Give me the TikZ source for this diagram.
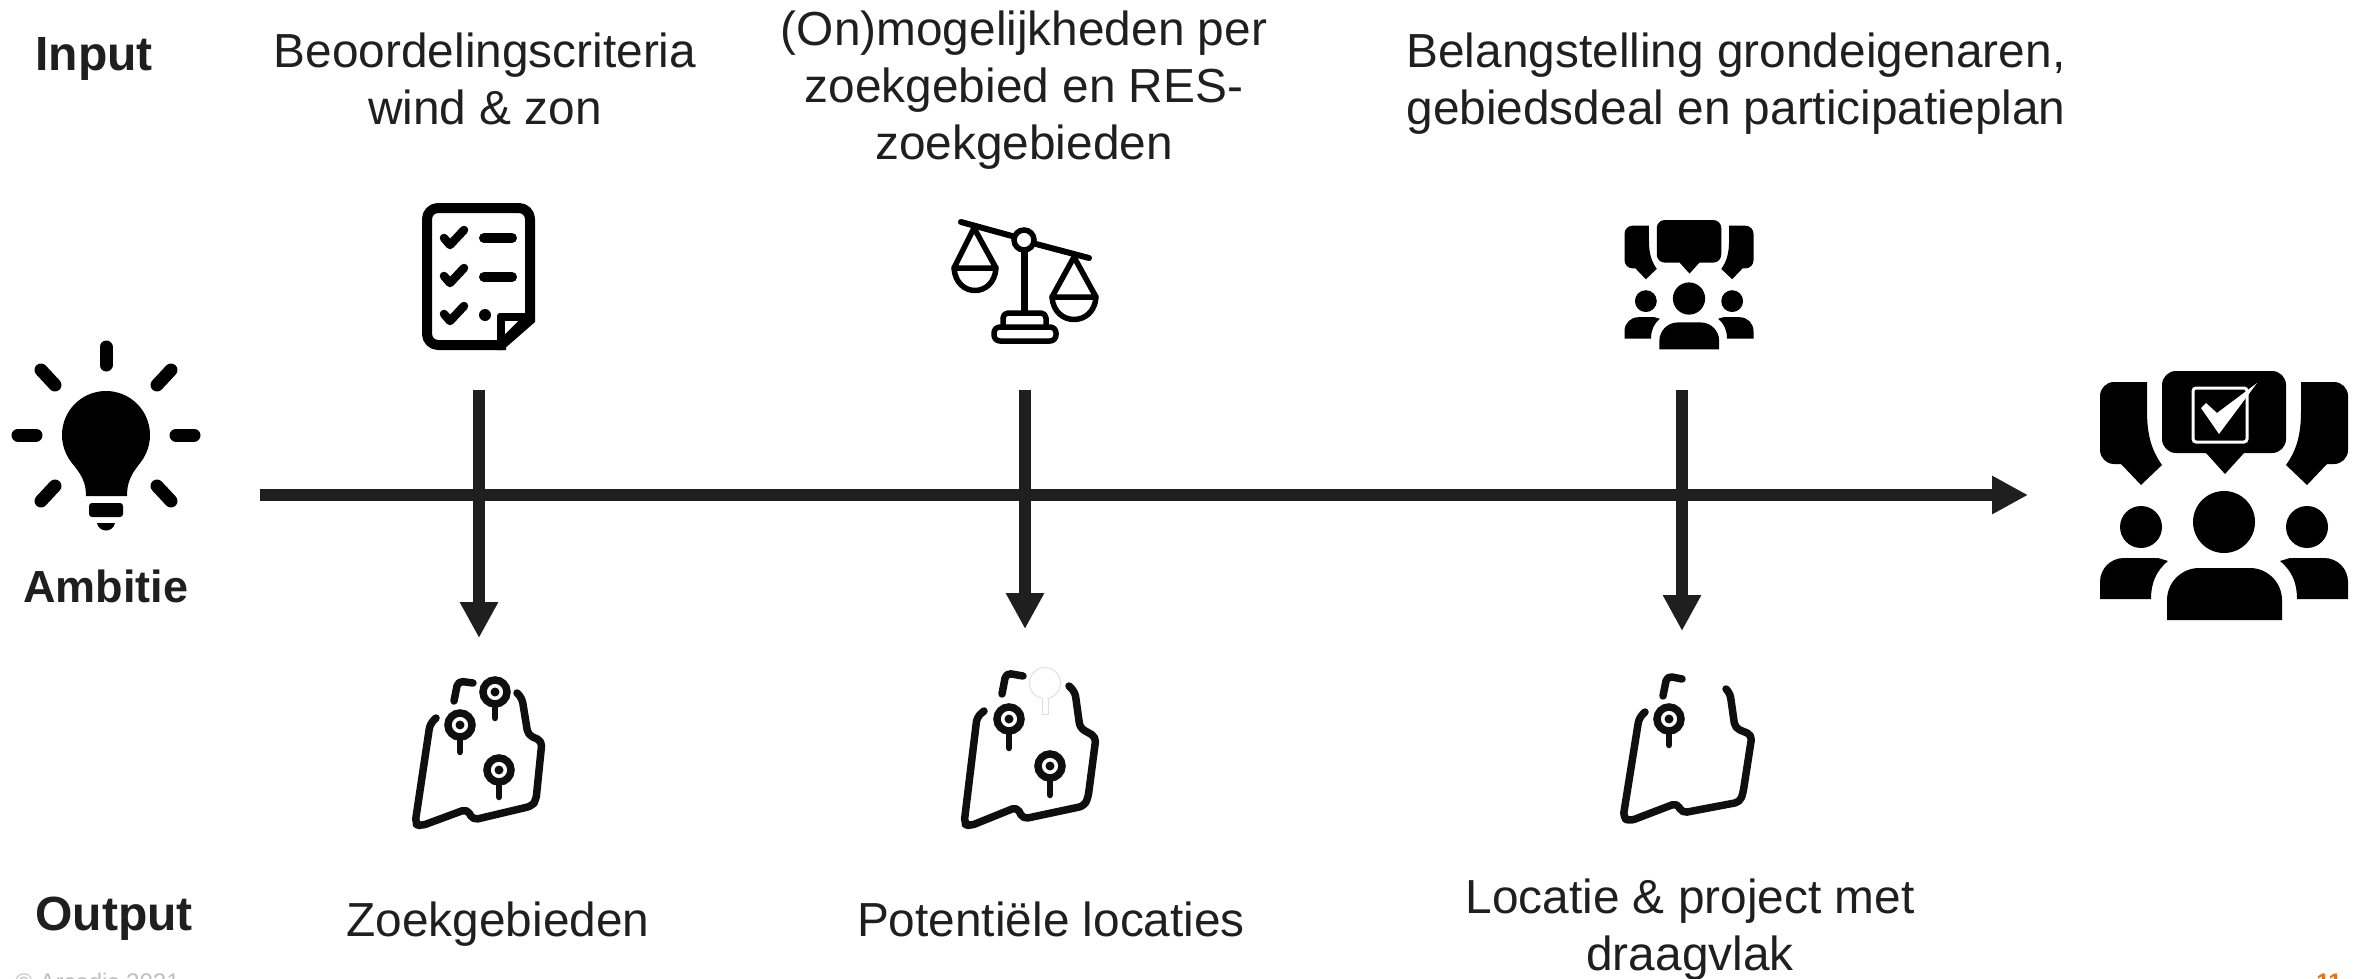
\documentclass[tikz,border=0pt]{standalone}
\usepackage{fontspec}
\setmainfont{Liberation Sans}
\usetikzlibrary{arrows.meta}
\definecolor{ink}{HTML}{1F1F1F}
\definecolor{mapink}{HTML}{0F0F0F}
\definecolor{foot}{HTML}{BFBFBF}
\definecolor{pagenr}{HTML}{E8701A}
\tikzset{
  label/.style={text=ink,font=\fontsize{47.8}{57}\selectfont,align=center,inner sep=0pt},
  blabel/.style={label,font=\fontsize{48}{57}\selectfont\bfseries},
  flow/.style={draw=ink,line width=12pt,-{Triangle[length=36pt,width=36pt]}},
  mapline/.style={draw=mapink,line width=7.5pt,line cap=round,line join=round,rounded corners=5pt},
  ray/.style={draw=black,line width=13pt,line cap=round},
  tick/.style={draw=black,line width=8.5pt,line cap=round,line join=round},
  pans/.style={draw=black,line width=5.5pt,line cap=round,line join=round},
  pics/mappin/.style={code={
    \draw[draw=mapink,line width=6.5pt,line cap=round] (0,0) -- (0,#1);
    \draw[draw=mapink,line width=7.5pt,fill=white] (0,0) circle[radius=12];
    \fill[mapink] (0,0) circle[radius=4.5];
  }},
  pics/crowd/.style={code={
    % speech bubbles
    \fill[black,rounded corners=#1*1pt] (-62,0) -- (62,0) -- (62,82) [sharp corners] -- (20,82) -- (1,103) -- (-18,82) [rounded corners=#1*1pt] -- (-62,82) -- cycle;
    \fill[black] (-77,11) [rounded corners=#1*1pt] -- (-124,11) -- (-124,93) [sharp corners] -- (-103,93) -- (-83,114) -- (-62,94) .. controls (-72,80) and (-77,65) .. (-77,40) -- cycle;
    \fill[black] (77,11) [rounded corners=#1*1pt] -- (124,11) -- (124,93) [sharp corners] -- (103,93) -- (83,114) -- (62,94) .. controls (72,80) and (77,65) .. (77,40) -- cycle;
    % heads
    \fill[black] (0,151) circle[radius=31];
    \fill[black] (-83,156) circle[radius=21];
    \fill[black] (83,156) circle[radius=21];
    % bodies
    \fill[black] (-57,249) [rounded corners=2.3*#1*1pt] -- (-57,197) -- (58,197) [sharp corners] -- (58,249) -- cycle;
    \fill[black] (-73,228) -- (-124,228) [rounded corners=1.7*#1*1pt] -- (-124,187) [sharp corners] -- (-66,187) -- (-56,190) .. controls (-68,200) and (-73,212) .. (-73,228) -- cycle;
    \fill[black] (73,228) -- (124,228) [rounded corners=1.7*#1*1pt] -- (124,187) [sharp corners] -- (66,187) -- (56,190) .. controls (68,200) and (73,212) .. (73,228) -- cycle;
  }}
}
\begin{document}
\begin{tikzpicture}[x=1pt,y=-1pt]
\useasboundingbox (0,0) rectangle (2359,979);
\clip (0,0) rectangle (2359,979);

% ---------- flow arrows
\coordinate (mainstart) at (260,495);
\coordinate (mainend) at (2028,495);
\coordinate (a1top) at (479,390);
\coordinate (a1end) at (479,638);
\coordinate (a2top) at (1025,390);
\coordinate (a2end) at (1025,629);
\coordinate (a3top) at (1682,390);
\coordinate (a3end) at (1682,631);
\draw[flow] (mainstart) -- (mainend);
\draw[flow] (a1top) -- (a1end);
\draw[flow] (a2top) -- (a2end);
\draw[flow] (a3top) -- (a3end);

% ---------- texts
\node[blabel] (input) at (94,59) {Input};
\node[blabel] (output) at (114,919) {Output};
\node[blabel,font=\fontsize{45}{50}\selectfont\bfseries] (ambitie) at (106,586) {Ambitie};
\node[label] (in1) at (485,79) {Beoordelingscriteria\\wind \& zon};
\node[label] (in2) at (1024,90) {(On)mogelijkheden per\\zoekgebied en RES-\\zoekgebieden};
\node[label] (in3) at (1736,84) {Belangstelling grondeigenaren,\\gebiedsdeal en participatieplan};
\node[label] (out1) at (498,924) {Zoekgebieden};
\node[label] (out2) at (1051,919) {Potentiële locaties};
\node[label] (out3) at (1690,930) {Locatie \& project met\\draagvlak};
\node[text=foot,font=\fontsize{24}{28}\selectfont,anchor=base west,inner sep=0pt] (copy) at (15,990) {© Arcadis 2021};
\node[text=pagenr,font=\fontsize{24}{28}\selectfont\bfseries,anchor=base east,inner sep=0pt] (pnr) at (2342,990) {11};

% ---------- light bulb
\fill[black] (106,435) circle[radius=44];
\fill[black] (68,457) .. controls (76,470) and (86,476) .. (86,496) -- (127,496) .. controls (127,476) and (136,470) .. (144,457) -- cycle;
\fill[black,rounded corners=3pt] (89,503) -- (123,503) -- (123,517) -- (89,517) -- cycle;
\fill[black] (97,523) -- (115,523) .. controls (113,533) and (99,533) .. (97,523) -- cycle;
\draw[ray] (106,347) -- (106,365);
\draw[ray] (18,435) -- (36,435);
\draw[ray] (176,435) -- (194,435);
\draw[ray] (41,370) -- (55,385);
\draw[ray] (171,370) -- (157,385);
\draw[ray] (55,486) -- (41,501);
\draw[ray] (157,486) -- (171,501);

% ---------- checklist document
\draw[draw=black,line width=10pt,line join=round,rounded corners=11pt] (506,345) -- (427,345) -- (427,208) -- (530,208) -- (530,316);
\fill[black] (497,318) [rounded corners=3pt] -- (497,313) -- (535,313) [sharp corners] -- (535,322) -- (503,350) -- (497,350) -- cycle;
\fill[white] (505,321) -- (518,321) -- (505,334) -- cycle;
\draw[tick] (444,238) -- (450,245) -- (464,230);
\draw[tick] (444,276) -- (450,283) -- (464,268);
\draw[tick] (444,314) -- (450,321) -- (464,306);
\draw[draw=black,line width=10pt,line cap=round] (484,238) -- (512,238);
\draw[draw=black,line width=10pt,line cap=round] (484,277) -- (512,277);
\fill[black] (485,315) circle[radius=6];

% ---------- scales
\draw[draw=black,line width=6pt,line cap=round] (961,222) -- (1012,236);
\draw[draw=black,line width=6pt,line cap=round] (1036,244) -- (1089,258);
\draw[draw=black,line width=7pt] (1024,250) -- (1024,313);
\draw[draw=black,line width=5.5pt] (1024,240) circle[radius=10];
\draw[pans] (974,228) -- (954,268) -- (996,268) -- cycle;
\draw[pans] (954,268) .. controls (956,298) and (994,298) .. (996,268);
\draw[pans] (1074,257) -- (1052,297) -- (1096,297) -- cycle;
\draw[pans] (1052,297) .. controls (1054,327) and (1094,327) .. (1096,297);
\draw[pans,rounded corners=5pt] (1003,327) -- (1003,313) -- (1046,313) -- (1046,327);
\draw[pans,rounded corners=6pt] (994,341) -- (994,327) -- (1056,327) -- (1056,341) -- cycle;

% ---------- crowds
\pic[scale=0.52] at (1689,220) {crowd={8}};
\pic at (2224,371) {crowd={14}};
\draw[draw=white,line width=3pt,rounded corners=3pt] (2193,388) rectangle (2247,442);
\fill[white] (2201,408) -- (2206,403) -- (2217,413) -- (2257,383) -- (2219,434) -- cycle;

% ---------- map 1
\draw[mapline] (436,718) -- (430,724) -- (415,824) -- (421,826) -- (467,809) -- (473,820) -- (532,806) -- (536,800) -- (542,741) -- (528,735) -- (522,698) -- (517,693);
\draw[mapline] (454,701) -- (458,681) -- (473,683);
\pic at (495,692) {mappin={26}};
\pic at (460,725) {mappin={27}};
\pic at (499,770) {mappin={27}};

% ---------- map 2
\draw[mapline] (984,711) -- (977,717) -- (964,824) -- (970,826) -- (1017,807) -- (1023,819) -- (1084,806) -- (1088,798) -- (1096,737) -- (1080,728) -- (1075,692) -- (1069,686);
\draw[mapline] (1002,694) -- (1006,673) -- (1023,676);
\draw[draw=black!12,fill=white,line width=1pt] (1042,696) -- (1042,714) -- (1048,714) -- (1048,696) -- cycle;
\draw[draw=black!12,fill=white,line width=1pt] (1045,683) circle[radius=15.5];
\fill[white] (1043,694) rectangle (1047,702);
\pic at (1009,719) {mappin={29}};
\pic at (1050,766) {mappin={29}};

% ---------- map 3
\draw[mapline] (1645,712) -- (1639,718) -- (1623,818) -- (1630,821) -- (1677,803) -- (1682,813) -- (1740,802) -- (1743,793) -- (1752,735) -- (1735,728) -- (1730,693) -- (1726,689);
\draw[mapline] (1663,696) -- (1667,676) -- (1682,679);
\pic at (1669,719) {mappin={26}};
\end{tikzpicture}
\end{document}
